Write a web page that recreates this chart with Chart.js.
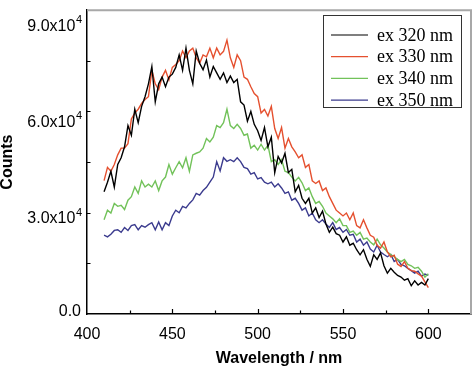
<!DOCTYPE html>
<html>
<head>
<meta charset="utf-8">
<script src="https://cdn.jsdelivr.net/npm/chart.js@4.4.1/dist/chart.umd.min.js"></script>
<style>
  html, body { margin: 0; padding: 0; background: #fff; }
</style>
</head>
<body>
<canvas id="specChart" width="474" height="368"></canvas>
<script>
// wavelength grid (nm)
const wavelengths = [
  410, 412, 414, 416, 418, 420, 422, 424, 426, 428, 430, 432, 434, 436, 438, 440,
  442, 444, 446, 448, 450, 452, 454, 456, 458, 460, 462, 464, 466, 468, 470, 472,
  474, 476, 478, 480, 482, 484, 486, 488, 490, 492, 494, 496, 498, 500, 502, 504,
  506, 508, 510, 512, 514, 516, 518, 520, 522, 524, 526, 528, 530, 532, 534, 536,
  538, 540, 542, 544, 546, 548, 550, 552, 554, 556, 558, 560, 562, 564, 566, 568,
  570, 572, 574, 576, 578, 580, 582, 584, 586, 588, 590, 592, 594, 596, 598, 600
];

// counts, in thousands
const ex320 = [
  38.0, 41.0, 44.4, 39.5, 46.5, 48.6, 52.0, 58.6, 55.6, 63.7, 59.5, 64.6, 67.6, 71.6, 77.0, 66.0,
  71.6, 73.7, 70.7, 73.7, 74.6, 76.7, 80.6, 75.8, 82.7, 75.8, 71.6, 81.8, 78.0, 76.0, 79.0, 73.7,
  77.0, 75.0, 73.0, 75.0, 72.0, 74.0, 72.0, 73.0, 66.0, 65.0, 60.0, 63.0, 59.0, 57.0, 54.0, 58.0,
  52.0, 55.0, 44.0, 49.0, 47.0, 50.0, 44.0, 45.0, 38.0, 40.0, 36.0, 34.4, 36.0, 31.4, 33.0, 30.0,
  32.0, 28.0, 25.4, 27.0, 25.0, 24.5, 22.4, 24.0, 21.4, 22.0, 20.0, 18.4, 20.0, 17.0, 14.8, 18.4,
  17.0, 19.0, 15.0, 12.7, 14.2, 13.0, 12.0, 11.5, 10.5, 11.0, 8.8, 10.3, 9.0, 9.8, 9.0, 11.0
];
const ex330 = [
  41.5, 45.6, 44.4, 46.5, 49.5, 51.6, 51.6, 53.0, 60.7, 62.5, 63.7, 65.5, 66.7, 67.6, 75.8, 71.6,
  69.8, 73.7, 75.8, 72.8, 76.7, 77.6, 78.8, 81.8, 79.7, 81.8, 82.7, 79.7, 78.0, 80.6, 80.0, 82.7,
  79.7, 82.7, 80.6, 81.7, 85.2, 79.7, 76.7, 80.6, 78.8, 73.7, 73.0, 70.7, 68.6, 67.6, 62.5, 63.6,
  61.6, 64.6, 57.7, 54.6, 58.0, 51.6, 54.6, 52.0, 50.4, 48.6, 49.5, 45.6, 46.5, 41.4, 40.6, 41.4,
  38.4, 39.2, 36.5, 34.4, 32.3, 31.4, 30.5, 31.4, 29.3, 31.4, 27.5, 26.8, 29.3, 26.8, 24.5, 23.9,
  21.4, 20.5, 22.4, 19.3, 17.8, 18.3, 15.5, 14.8, 16.3, 14.2, 13.5, 13.3, 12.5, 11.8, 10.0, 8.2
];
const ex340 = [
  29.3, 32.3, 31.4, 34.4, 33.5, 33.8, 32.5, 35.4, 36.5, 39.5, 37.5, 41.4, 39.5, 40.4, 39.5, 41.4,
  38.4, 41.4, 42.6, 46.5, 43.5, 45.5, 47.4, 45.5, 48.6, 44.4, 49.5, 50.0, 50.4, 51.6, 54.6, 53.5,
  55.0, 58.6, 58.0, 59.5, 63.7, 58.6, 57.7, 59.0, 57.7, 55.6, 56.0, 51.6, 52.5, 51.0, 52.8, 51.0,
  52.5, 47.4, 48.0, 46.5, 48.0, 44.4, 44.0, 42.6, 41.4, 42.5, 40.8, 38.4, 39.2, 36.5, 34.4, 35.0,
  33.5, 31.4, 30.5, 29.6, 28.4, 29.6, 27.5, 27.5, 25.4, 25.8, 24.5, 25.4, 23.3, 23.6, 22.4, 21.5,
  23.3, 21.5, 20.5, 19.3, 18.5, 17.8, 17.0, 16.3, 17.0, 15.4, 15.0, 14.2, 14.5, 13.3, 11.5, 12.5
];
const ex350 = [
  24.5, 24.0, 24.8, 26.0, 26.2, 25.4, 26.9, 26.0, 27.5, 27.8, 26.2, 27.5, 27.0, 27.8, 28.4, 26.2,
  28.6, 26.2, 28.4, 27.5, 30.5, 32.3, 31.5, 33.5, 33.0, 34.4, 35.5, 37.5, 37.0, 38.4, 39.4, 41.0,
  42.6, 47.4, 44.5, 48.6, 47.5, 48.0, 47.4, 48.6, 47.4, 45.6, 45.2, 43.5, 44.0, 42.0, 42.4, 41.0,
  40.5, 41.0, 39.5, 40.5, 39.2, 37.5, 38.0, 35.4, 36.0, 34.4, 32.3, 33.0, 30.5, 31.4, 29.3, 28.4,
  29.3, 28.0, 26.9, 28.4, 26.3, 26.9, 25.4, 26.3, 24.5, 24.8, 22.4, 23.3, 21.4, 22.4, 20.2, 19.3,
  21.4, 19.3, 18.5, 17.8, 18.5, 16.3, 17.0, 15.4, 15.0, 14.2, 13.5, 12.7, 13.3, 11.8, 12.4, 12.0
];

const seriesLabels = ['ex 320 nm', 'ex 330 nm', 'ex 340 nm', 'ex 350 nm'];
const seriesColors = ['#000000', '#e5502f', '#72c25a', '#3b3b8e'];
const yLabelTicks = [0, 30000, 60000, 90000];

const toPoints = vals => vals.map((v, i) => ({ x: wavelengths[i], y: v * 1000 }));

const sans = '"Liberation Sans", Arial, sans-serif';

const decorPlugin = {
  id: 'decor',
  afterDraw: (chart) => {
    const { ctx, chartArea: a, scales } = chart;
    const xs = scales.x, ys = scales.y;
    ctx.save();

    // top / right frame
    ctx.strokeStyle = '#a8a8a8';
    ctx.lineWidth = 2;
    ctx.beginPath();
    ctx.moveTo(a.left, a.top);
    ctx.lineTo(a.right, a.top);
    ctx.lineTo(a.right, a.bottom);
    ctx.stroke();

    // inward ticks
    ctx.strokeStyle = '#000';
    ctx.lineWidth = 1.2;
    ctx.beginPath();
    xs.ticks.forEach(t => {
      if (t.value <= xs.min || t.value >= xs.max) return;
      const px = Math.round(xs.getPixelForValue(t.value)) + 0.5;
      const len = t.value % 50 === 0 ? 5 : 3.5;
      ctx.moveTo(px, a.bottom);
      ctx.lineTo(px, a.bottom - len);
    });
    ys.ticks.forEach(t => {
      if (t.value <= ys.min || t.value >= ys.max) return;
      const py = Math.round(ys.getPixelForValue(t.value)) + 0.5;
      const len = t.value % 30000 === 0 ? 5 : 3.5;
      ctx.moveTo(a.left, py);
      ctx.lineTo(a.left + len, py);
    });
    ctx.stroke();

    // y tick labels with superscript
    ctx.fillStyle = '#000';
    ctx.textBaseline = 'middle';
    ctx.textAlign = 'right';
    yLabelTicks.forEach(v => {
      const py = ys.getPixelForValue(v);
      if (v === 0) {
        ctx.font = '16px ' + sans;
        ctx.fillText('0.0', 81, py - 2);
        return;
      }
      ctx.font = '11px ' + sans;
      const sup = '4';
      const supW = ctx.measureText(sup).width;
      ctx.fillText(sup, 82, py - 5);
      ctx.font = '16px ' + sans;
      ctx.fillText((v / 10000).toFixed(1) + 'x10', 82 - supW - 0.5, py + 1.5);
    });

    // legend
    const bx = 323.5, by = 15.5, bw = 138, bh = 92;
    ctx.strokeStyle = '#333';
    ctx.lineWidth = 1;
    ctx.strokeRect(bx, by, bw, bh);
    ctx.textAlign = 'left';
    ctx.font = '18px "Liberation Serif", "Times New Roman", serif';
    chart.data.datasets.forEach((ds, i) => {
      const ry = 35 + i * 21.7;
      ctx.strokeStyle = ds.borderColor;
      ctx.lineWidth = 1.2;
      ctx.beginPath();
      ctx.moveTo(331, ry);
      ctx.lineTo(368, ry);
      ctx.stroke();
      ctx.fillStyle = '#000';
      ctx.fillText(ds.label, 377, ry + 1);
    });

    ctx.restore();
  }
};

const ctx = document.getElementById('specChart').getContext('2d');
new Chart(ctx, {
  type: 'line',
  data: {
    datasets: [ex320, ex330, ex340, ex350].map((vals, i) => ({
      label: seriesLabels[i],
      data: toPoints(vals),
      borderColor: seriesColors[i],
      borderWidth: 1.4,
      pointRadius: 0,
      tension: 0,
      fill: false
    }))
  },
  options: {
    responsive: false,
    animation: false,
    devicePixelRatio: 1,
    layout: { padding: { left: 0, right: 2, top: 1, bottom: 0 } },
    plugins: {
      legend: { display: false },
      tooltip: { enabled: false }
    },
    scales: {
      x: {
        type: 'linear',
        min: 400,
        max: 625,
        afterFit: s => { s.height = 54; },
        grid: { display: false },
        border: { display: true, color: '#000', width: 1.5 },
        ticks: {
          stepSize: 25,
          autoSkip: false,
          maxRotation: 0,
          padding: 3,
          color: '#000',
          font: { size: 16, family: sans },
          callback: v => v % 50 === 0 ? String(v) : ''
        },
        title: {
          display: true,
          text: 'Wavelength / nm',
          color: '#000',
          font: { size: 16, weight: 'bold', family: sans },
          padding: 0
        }
      },
      y: {
        type: 'linear',
        min: 0,
        max: 94500,
        afterFit: s => { s.width = 87; },
        grid: { display: false },
        border: { display: true, color: '#000', width: 1.5 },
        ticks: {
          stepSize: 15000,
          includeBounds: false,
          callback: () => ''
        },
        title: {
          display: true,
          text: 'Counts',
          color: '#000',
          font: { size: 16, weight: 'bold', family: sans, lineHeight: 1 },
          padding: 0
        }
      }
    }
  },
  plugins: [decorPlugin]
});
</script>
</body>
</html>
